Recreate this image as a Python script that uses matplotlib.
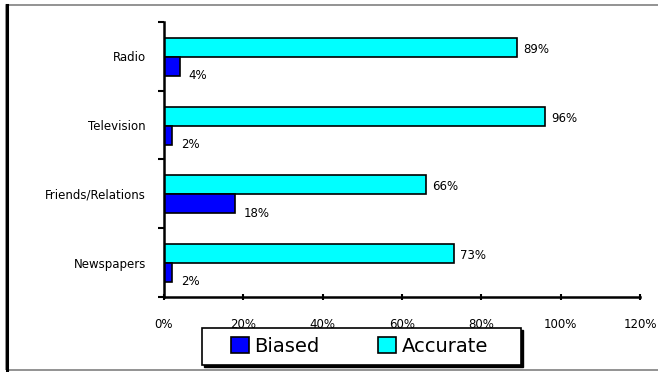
import matplotlib
matplotlib.use("Agg")
import matplotlib.pyplot as plt
from matplotlib.patches import Rectangle
from matplotlib.lines import Line2D

# ---- data ----
categories = ["Radio", "Television", "Friends/Relations", "Newspapers"]
biased = [4, 2, 18, 2]
accurate = [89, 96, 66, 73]
xticks = [0, 20, 40, 60, 80, 100, 120]

fig = plt.figure(figsize=(6.58, 3.72), dpi=100)
ax = fig.add_axes([0.2492, 0.2016, 0.7234, 0.7393])

def px(x0, y0, w, h):
    # pixel box (top-left origin) -> figure fraction
    return x0 / 658, 1 - (y0 + h) / 372, w / 658, h / 372

# outer frame of the chart area (right edge falls outside the image)
fig.add_artist(Rectangle((6 / 658, 2 / 372), 660 / 658, 365 / 372, transform=fig.transFigure,
                         fill=False, edgecolor="#808080", linewidth=1.2))
fig.add_artist(Line2D([7 / 658, 7 / 658], [2 / 372, 367 / 372], transform=fig.transFigure,
                      color="black", linewidth=2.2))

pos = list(range(len(categories)))
h = 0.275
ax.barh([p - 0.13 for p in pos], accurate, height=h, color="#00FFFF", edgecolor="black",
        linewidth=1.2, label="Accurate")
ax.barh([p + 0.145 for p in pos], biased, height=h, color="#0000FF", edgecolor="black",
        linewidth=1.2, label="Biased")

for p, a, b in zip(pos, accurate, biased):
    ax.text(a + 1.6, p - 0.10, "%d%%" % a, fontsize=8.5, va="center", ha="left")
    ax.text(b + 2.2, p + 0.28, "%d%%" % b, fontsize=8.5, va="center", ha="left")

ax.set_xlim(0, 120)
ax.set_ylim(3.5, -0.5)
ax.set_xticks(xticks)
ax.set_xticklabels(["%d%%" % t for t in xticks], fontsize=8.5)
ax.set_yticks(pos)
ax.set_yticklabels(categories, fontsize=8.5)
ax.tick_params(axis="y", length=0, pad=13)
ax.set_yticks([-0.5, 0.5, 1.5, 2.5, 3.5], minor=True)
ax.tick_params(axis="y", which="minor", length=4, width=1.5, direction="out")
ax.tick_params(axis="x", length=4, width=1.5, direction="inout", pad=13)

for s in ["top", "right"]:
    ax.spines[s].set_visible(False)
for s in ["left", "bottom"]:
    ax.spines[s].set_linewidth(1.8)

# legend box with a solid shadow, drawn separately
x0, y0, w0, h0 = px(204, 330, 319, 37)
fig.add_artist(Rectangle((x0, y0), w0, h0, transform=fig.transFigure,
                         facecolor="black", edgecolor="black"))
x0, y0, w0, h0 = px(202, 328, 319, 37)
fig.add_artist(Rectangle((x0, y0), w0, h0, transform=fig.transFigure,
                         facecolor="white", edgecolor="black", linewidth=1.2))

handles, labels = ax.get_legend_handles_labels()
leg = fig.legend(handles[::-1], labels[::-1], loc="center",
                 bbox_to_anchor=(x0 + w0 / 2 - 2 / 658, y0 + h0 / 2),
                 ncol=2, fontsize=14, frameon=False,
                 handlelength=0.9, handleheight=0.9, handletextpad=0.3,
                 columnspacing=3.0, borderpad=0.0, borderaxespad=0)

fig.savefig("out.png", dpi=100)
